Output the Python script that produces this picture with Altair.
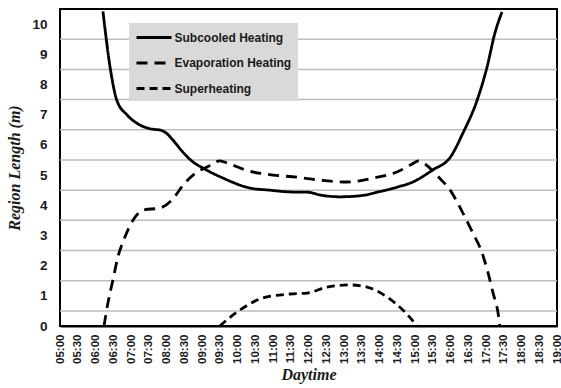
import altair as alt
import pandas as pd

series_names = ["Subcooled Heating", "Evaporation Heating", "Superheating"]

# hours of the day (decimal) and region lengths (m)
sub_hours = [6.21, 6.41, 6.6, 6.89, 7.25, 7.6, 7.82, 7.96, 8.18, 8.46, 8.75, 9.03, 9.59,
             10.35, 10.9, 11.48, 12.0, 12.32, 12.89, 13.5, 14.0, 14.5, 14.94, 15.5,
             16.0, 16.35, 16.75, 17.03, 17.25, 17.45]
sub_vals = [10.42, 8.58, 7.48, 6.99, 6.66, 6.52, 6.49, 6.42, 6.16, 5.76, 5.43, 5.23, 4.9,
            4.57, 4.5, 4.44, 4.43, 4.34, 4.28, 4.32, 4.45, 4.6, 4.77, 5.17,
            5.6, 6.39, 7.48, 8.58, 9.7, 10.4]

evap_hours = [6.24, 6.35, 6.49, 6.63, 6.83, 7.06, 7.34, 7.82, 8.15, 8.47, 8.8, 9.2, 9.5,
              9.75, 10.27, 11.0, 11.68, 12.32, 13.08, 13.82, 14.49, 14.9, 15.1, 15.3,
              15.65, 15.99, 16.35, 16.63, 16.89, 17.06, 17.2, 17.34, 17.39]
evap_vals = [0.0, 0.76, 1.52, 2.28, 2.95, 3.51, 3.84, 3.91, 4.17, 4.67, 5.05, 5.3, 5.47,
             5.38, 5.15, 5.0, 4.93, 4.83, 4.77, 4.9, 5.1, 5.35, 5.47, 5.35,
             4.95, 4.5, 3.74, 3.08, 2.42, 1.75, 1.09, 0.43, 0.0]

sup_hours = [9.5, 10.07, 10.72, 11.48, 11.96, 12.52, 13.17, 13.65, 14.21, 14.66, 15.06]
sup_vals = [0.0, 0.53, 0.93, 1.06, 1.09, 1.29, 1.36, 1.29, 0.96, 0.53, 0.0]

y_tick_values = list(range(0, 11))
grid_values = [0.5, 1.5, 2.5, 3.5, 4.5, 5.5, 6.5, 7.5, 8.5, 9.5]
x_tick_values = [5 + 0.5 * i for i in range(29)]

rows = []
for name, hs, vs in zip(series_names,
                        [sub_hours, evap_hours, sup_hours],
                        [sub_vals, evap_vals, sup_vals]):
    for h, v in zip(hs, vs):
        rows.append({"series": name, "hour": h, "value": v})
df = pd.DataFrame(rows)
grid_df = pd.DataFrame({"g": grid_values})

y_scale = alt.Scale(domain=[0, 10.5], nice=False, zero=False)
x_scale = alt.Scale(domain=[5, 19], nice=False, zero=False)

y_axis = alt.Axis(values=y_tick_values, ticks=False, grid=False, domain=False,
                  labelPadding=13, labelFont="Liberation Sans",
                  labelFontWeight="bold", labelFontSize=13.5,
                  labelColor="#1a1a1a",
                  titleFont="Liberation Serif", titleFontStyle="italic",
                  titleFontWeight="bold", titleFontSize=16, titleColor="#1a1a1a",
                  titlePadding=9)

x_axis = alt.Axis(values=x_tick_values, labelAngle=270, labelAlign="right",
                  labelBaseline="middle", ticks=False, grid=False,
                  domain=True, domainColor="black", domainWidth=2,
                  labelPadding=8, labelFont="Liberation Sans",
                  labelFontWeight="bold", labelFontSize=11.5,
                  labelColor="#1a1a1a",
                  labelExpr="(datum.value < 10 ? '0' : '') + floor(datum.value) + ':' + (datum.value % 1 ? '30' : '00')",
                  titleFont="Liberation Serif", titleFontStyle="italic",
                  titleFontWeight="bold", titleFontSize=16, titleColor="#1a1a1a",
                  titlePadding=3, labelOverlap=False)

grid = alt.Chart(grid_df).mark_rule(color="#bdbdbd", strokeWidth=1.5).encode(
    y=alt.Y("g:Q", scale=y_scale, title="Region Length (m)", axis=y_axis)
)

lines = alt.Chart(df).mark_line(
    color="black", strokeWidth=2.8, interpolate="monotone", strokeCap="butt"
).encode(
    x=alt.X("hour:Q", scale=x_scale, title="Daytime", axis=x_axis),
    y=alt.Y("value:Q", scale=y_scale, title="Region Length (m)", axis=y_axis),
    strokeDash=alt.StrokeDash(
        "series:N",
        scale=alt.Scale(domain=series_names, range=[[1, 0], [11, 7], [8, 5]]),
        legend=alt.Legend(
            title=None, orient="none", legendX=69, legendY=14,
            fillColor="#d9d9d9", padding=6,
            symbolType="M-2.5,0H2.5", symbolSize=196, symbolStrokeWidth=3,
            symbolStrokeColor="black", symbolFillColor="transparent",
            symbolOffset=10.5, labelOffset=12, rowPadding=10.5,
            labelFont="Liberation Sans", labelFontWeight="bold", labelFontSize=12,
            labelColor="#1a1a1a",
        ),
    ),
    detail="series:N",
)

chart = alt.layer(grid, lines).properties(
    width=497, height=317,
    autosize=alt.AutoSizeParams(type="none"),
    padding={"left": 60, "top": 9, "right": 4, "bottom": 62},
    background="white",
).configure_view(stroke="black", strokeWidth=2)

chart.save("out.html", embed_options={"renderer": "svg", "actions": False})
